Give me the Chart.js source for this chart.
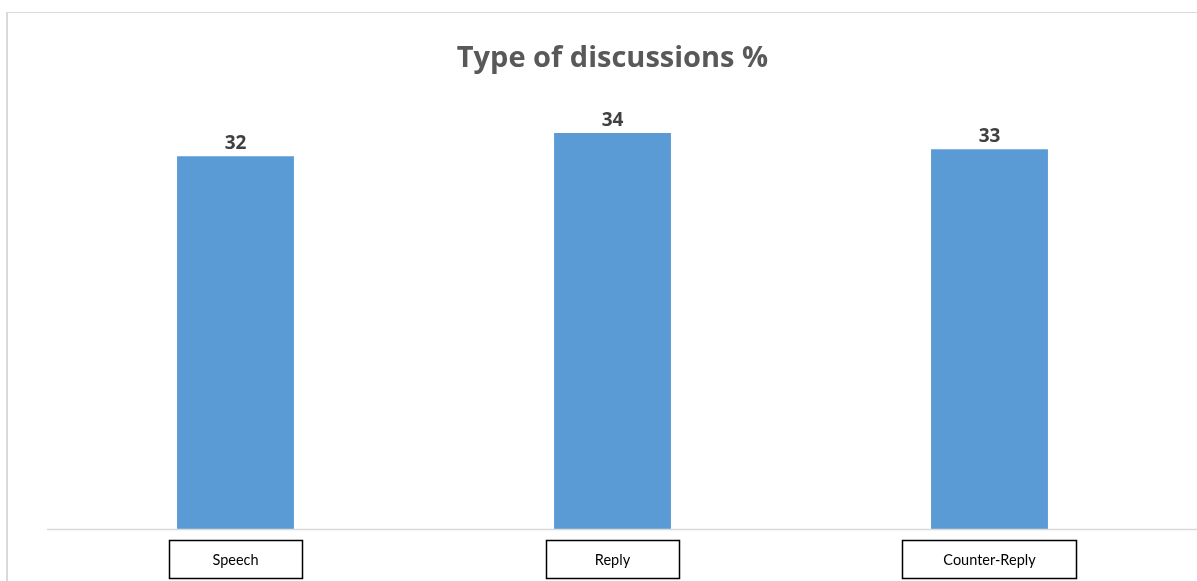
<!DOCTYPE html>
<html>
<head>
<meta charset="utf-8">
<script src="https://cdn.jsdelivr.net/npm/chart.js@4.4.1/dist/chart.umd.min.js"></script>
<style>
  html, body { margin: 0; padding: 0; background: #fff; }
  #wrap { width: 1197px; height: 581px; position: relative; }
</style>
</head>
<body>
<div id="wrap"><canvas id="chart"></canvas></div>
<script>
// Data
const categories = ['Speech', 'Reply', 'Counter-Reply'];
const shares = [32.1, 34.1, 32.7];   // bar heights (labels are shown rounded)
const titleText = 'Type of discussions %';

// Outer chart frame (only top and left edges are visible in the crop)
const framePlugin = {
  id: 'frame',
  beforeDraw(chart) {
    const ctx = chart.ctx;
    ctx.save();
    ctx.fillStyle = '#fff';
    ctx.fillRect(0, 0, chart.width, chart.height);
    ctx.strokeStyle = '#d9d9d9';
    ctx.lineWidth = 1;
    ctx.beginPath();
    ctx.moveTo(7, 12.5);
    ctx.lineTo(chart.width, 12.5);
    ctx.stroke();
    ctx.lineWidth = 2;
    ctx.beginPath();
    ctx.moveTo(7, 12);
    ctx.lineTo(7, chart.height);
    ctx.stroke();
    ctx.restore();
  }
};

// Baseline, boxed category labels and value labels above the bars
const labelsPlugin = {
  id: 'boxLabels',
  afterDatasetsDraw(chart) {
    const ctx = chart.ctx;
    const area = chart.chartArea;
    const xScale = chart.scales.x;
    ctx.save();

    // baseline
    ctx.strokeStyle = '#d9d9d9';
    ctx.lineWidth = 1.5;
    ctx.beginPath();
    ctx.moveTo(area.left, area.bottom + 0.5);
    ctx.lineTo(chart.width, area.bottom + 0.5);
    ctx.stroke();

    // category boxes
    ctx.font = '14.5px Lato';
    ctx.textAlign = 'center';
    ctx.textBaseline = 'middle';
    categories.forEach((name, i) => {
      const cx = xScale.getPixelForTick(i);
      const w = Math.max(133, ctx.measureText(name).width + 82);
      const top = area.bottom + 11;
      const h = 38;
      ctx.strokeStyle = '#000';
      ctx.lineWidth = 1.5;
      ctx.strokeRect(Math.round(cx - w / 2) + 0.5, top + 0.5, Math.round(w), h);
      ctx.fillStyle = '#000';
      ctx.fillText(name, cx, top + h / 2 + 1);
    });

    // value labels
    const meta = chart.getDatasetMeta(0);
    ctx.font = 'bold 19px "Open Sans"';
    ctx.fillStyle = '#404040';
    ctx.textBaseline = 'bottom';
    meta.data.forEach((bar, i) => {
      ctx.fillText(String(Math.round(shares[i])), bar.x, bar.y - 3);
    });
    ctx.restore();
  }
};

new Chart(document.getElementById('chart'), {
  type: 'bar',
  data: {
    labels: categories,
    datasets: [{
      data: shares,
      backgroundColor: '#5b9bd5',
      categoryPercentage: 1,
      barPercentage: 0.31
    }]
  },
  options: {
    responsive: true,
    maintainAspectRatio: false,
    animation: false,
    layout: { padding: { top: 12, left: 47, right: 19, bottom: 44 } },
    plugins: {
      legend: { display: false },
      tooltip: { enabled: false },
      title: {
        display: true,
        text: titleText,
        color: '#595959',
        font: { family: 'Open Sans', size: 29, weight: 'bold', lineHeight: 1.2 },
        padding: { top: 29, bottom: 12 }
      }
    },
    scales: {
      x: {
        display: true,
        grid: { display: false },
        border: { display: false },
        ticks: { display: false }
      },
      y: {
        display: false,
        min: 0,
        max: 38
      }
    }
  },
  plugins: [framePlugin, labelsPlugin]
});
</script>
</body>
</html>
